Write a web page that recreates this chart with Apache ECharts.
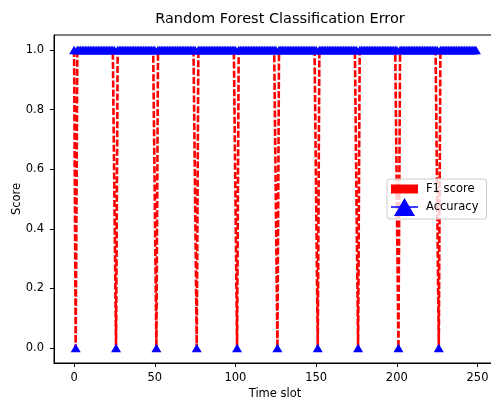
<!DOCTYPE html>
<html>
<head>
<meta charset="utf-8">
<script src="https://cdn.jsdelivr.net/npm/echarts@6/dist/echarts.min.js"></script>
<style>html,body{margin:0;padding:0;background:#fff}#c{width:491px;height:403px}</style>
</head>
<body>
<div id="c"></div>
<script>
const chartTitle = 'Random Forest Classification Error';
const xAxisName = 'Time slot';
const yAxisName = 'Score';
const xTicks = [0, 50, 100, 150, 200, 250];
const yTicks = [0, 0.2, 0.4, 0.6, 0.8, 1.0];

// F1 score per time slot (0..249)
const f1Score = [
  1,0,1,1,1,1,1,1,1,1,1,1,1,1,1,1,1,1,1,1,1,1,1,1,1,
  1,0,1,1,1,1,1,1,1,1,1,1,1,1,1,1,1,1,1,1,1,1,1,1,1,
  1,0,1,1,1,1,1,1,1,1,1,1,1,1,1,1,1,1,1,1,1,1,1,1,1,
  1,0,1,1,1,1,1,1,1,1,1,1,1,1,1,1,1,1,1,1,1,1,1,1,1,
  1,0,1,1,1,1,1,1,1,1,1,1,1,1,1,1,1,1,1,1,1,1,1,1,1,
  1,0,1,1,1,1,1,1,1,1,1,1,1,1,1,1,1,1,1,1,1,1,1,1,1,
  1,0,1,1,1,1,1,1,1,1,1,1,1,1,1,1,1,1,1,1,1,1,1,1,1,
  1,0,1,1,1,1,1,1,1,1,1,1,1,1,1,1,1,1,1,1,1,1,1,1,1,
  1,0,1,1,1,1,1,1,1,1,1,1,1,1,1,1,1,1,1,1,1,1,1,1,1,
  1,0,1,1,1,1,1,1,1,1,1,1,1,1,1,1,1,1,1,1,1,1,1,1,1
];

// Accuracy per time slot (0..249)
const accuracy = [
  1,0,1,1,1,1,1,1,1,1,1,1,1,1,1,1,1,1,1,1,1,1,1,1,1,
  1,0,1,1,1,1,1,1,1,1,1,1,1,1,1,1,1,1,1,1,1,1,1,1,1,
  1,0,1,1,1,1,1,1,1,1,1,1,1,1,1,1,1,1,1,1,1,1,1,1,1,
  1,0,1,1,1,1,1,1,1,1,1,1,1,1,1,1,1,1,1,1,1,1,1,1,1,
  1,0,1,1,1,1,1,1,1,1,1,1,1,1,1,1,1,1,1,1,1,1,1,1,1,
  1,0,1,1,1,1,1,1,1,1,1,1,1,1,1,1,1,1,1,1,1,1,1,1,1,
  1,0,1,1,1,1,1,1,1,1,1,1,1,1,1,1,1,1,1,1,1,1,1,1,1,
  1,0,1,1,1,1,1,1,1,1,1,1,1,1,1,1,1,1,1,1,1,1,1,1,1,
  1,0,1,1,1,1,1,1,1,1,1,1,1,1,1,1,1,1,1,1,1,1,1,1,1,
  1,0,1,1,1,1,1,1,1,1,1,1,1,1,1,1,1,1,1,1,1,1,1,1,1
];

const timeSlots = accuracy.map((_, i) => i);
const f1Data = timeSlots.map((t, i) => [t, f1Score[i]]);
const accData = timeSlots.map((t, i) => [t, accuracy[i]]);

const FONT = 'DejaVu Sans';
const F1_ICON = 'path://M0,0L0.01,0L0.01,0.01ZM0,4.5L27,4.5L27,13.5L0,13.5ZM27,18L26.99,18L26.99,17.99Z';
const ACC_ICON = 'path://M0,8.25L27,8.25L27,9.75L0,9.75ZM13.5,0L24,18L3,18Z';

const chart = echarts.init(document.getElementById('c'), null, {renderer: 'canvas'});
chart.setOption({
  animation: false,
  backgroundColor: '#ffffff',
  title: {
    text: chartTitle,
    left: 275,
    top: 7,
    textAlign: 'center',
    textStyle: {fontFamily: FONT, fontSize: 14.5, fontWeight: 'normal', color: '#000'}
  },
  grid: {
    left: 54, top: 35, width: 442, height: 328,
    containLabel: false, outerBoundsMode: 'none',
    show: true, borderColor: '#000', borderWidth: 1, backgroundColor: 'transparent'
  },
  xAxis: {
    type: 'value',
    min: -12.45, max: 261.45,
    name: xAxisName, nameLocation: 'middle', nameGap: 25.5, nameMoveOverlap: false,
    nameTextStyle: {fontFamily: FONT, fontSize: 11.5, color: '#000'},
    axisLine: {show: true, onZero: false, lineStyle: {color: '#000', width: 1}},
    axisTick: {show: true, length: 4, lineStyle: {color: '#000', width: 1}, customValues: xTicks},
    axisLabel: {customValues: xTicks, margin: 9, color: '#000', fontFamily: FONT, fontSize: 11.5},
    splitLine: {show: false}
  },
  yAxis: {
    type: 'value',
    min: -0.05, max: 1.05,
    name: yAxisName, nameLocation: 'middle', nameGap: 31, nameRotate: 90, nameMoveOverlap: false,
    nameTextStyle: {fontFamily: FONT, fontSize: 11.5, color: '#000'},
    axisLine: {show: true, onZero: false, lineStyle: {color: '#000', width: 1}},
    axisTick: {show: true, length: 4, lineStyle: {color: '#000', width: 1}, customValues: yTicks},
    axisLabel: {customValues: yTicks, margin: 10, color: '#000', fontFamily: FONT, fontSize: 11.5,
      formatter: v => Number(v).toFixed(1)},
    splitLine: {show: false}
  },
  legend: {
    orient: 'vertical',
    left: 387, top: 179,
    itemWidth: 27, itemHeight: 18, itemGap: 0,
    padding: [1, 8, 3, 4],
    backgroundColor: 'rgba(255,255,255,0.8)',
    borderColor: '#cccccc', borderWidth: 1, borderRadius: 3,
    textStyle: {fontFamily: FONT, fontSize: 11.5, color: '#000', padding: [0, 0, 0, 3]},
    itemStyle: {borderWidth: 0},
    data: [
      {name: 'F1 score', icon: F1_ICON},
      {name: 'Accuracy', icon: ACC_ICON}
    ]
  },
  series: [
    {
      name: 'F1 score', type: 'line', data: f1Data, z: 3,
      symbol: 'none',
      lineStyle: {color: '#ff0000', width: 2.6, type: [7, 2.2]},
      itemStyle: {color: '#ff0000'}
    },
    {
      name: 'Accuracy', type: 'line', data: accData, z: 4,
      symbol: 'triangle', symbolSize: [10, 8.5], showSymbol: true,
      lineStyle: {color: '#0000ff', width: 0},
      itemStyle: {color: '#0000ff'}
    }
  ]
});
</script>
</body>
</html>
